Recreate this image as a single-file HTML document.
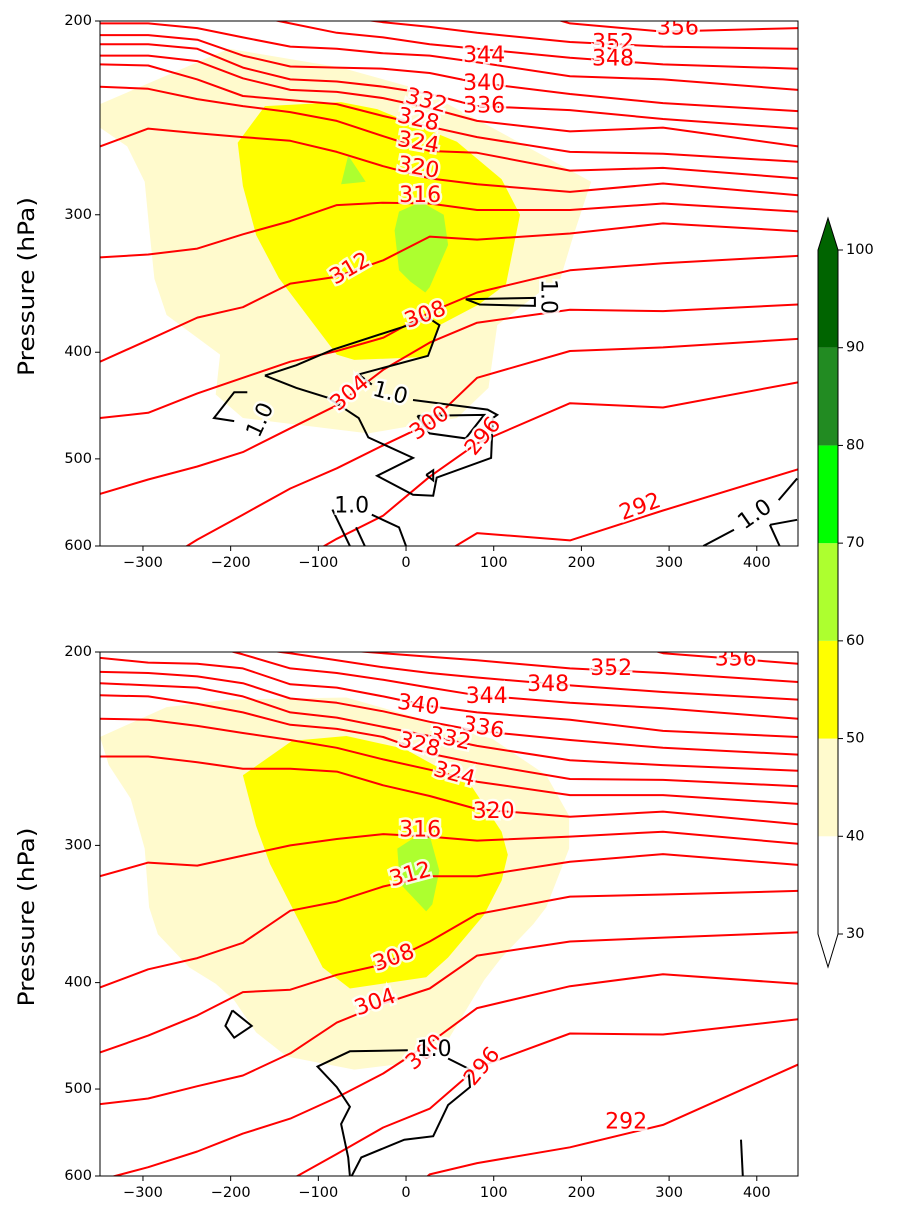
<!DOCTYPE html>
<html><head><meta charset="utf-8"><style>
html,body{margin:0;padding:0;background:#fff;overflow:hidden;width:909px;height:1227px;}
svg{display:block;font-family:"DejaVu Sans","Liberation Sans",sans-serif;}
</style></head><body>
<svg id="chart" width="909" height="1227" viewBox="0 0 909 1227" xmlns="http://www.w3.org/2000/svg" overflow="hidden"></svg>
<script>
// ---------- data ----------
const xSamples = [-349,-294,-238,-186,-132,-79,-26,27,81,187,293,447];
const thetaLevels = [356,352,348,344,340,336,332,328,324,320,316,312,308,304,300,296,292];
const topTheta = [
 [150,150,150,150,150,150,150,150,190,201,204.5,203],
 [185,188,191,194,196,198,200.5,202.5,205,209,211,212],
 [190,193,194,197,201,205,207,210,212,216,219,221],
 [201,201,203,207,211,212,214,215,218,224.5,226,231],
 [206,206,208,215,220,220.5,221,223,227.5,233,237.5,241.5],
 [210,210,212,220.5,226,227,229.5,233,239,241,245.5,250.5],
 [215,215,217.5,225.5,231,232,235,240,246.5,252,250,260],
 [219,219.5,226,234,236,238,244,249.5,255,263,264,268.5],
 [229.5,230.5,235.5,239,242,246.5,254.5,262.5,263.5,273.5,272,278],
 [260,250.5,253,255,257,263,271,278,281.5,286,281,288],
 [328,326,322,312.5,304,294,292.5,293,297,297,293,298],
 [408,390,372,364,346.5,341.5,330,314,316,312,305.5,310.5],
 [459,454,436,422,408,399,388,368,353,337,332,327],
 [538,522,508,493,469,447,415,392,376,366,367,362],
 [658,631,592,562,532,510,486,464,422,399,396,389],
 [780,740,700,660,625,591,563,519,484,445,449,426],
 [850,820,790,760,730,700,670,620,584,593,557,511]
];
const bottomTheta = [
 [150,150,150,150,150,150,150,150,170,190,200.5,205],
 [180,183,186,190,194,199,200.5,202,203.5,207,209,213],
 [185,188,191,198,200.5,203.5,206.5,209,211,214.5,217.5,221],
 [188,191,196,201,207,209,212,215.5,219,222.5,225,230],
 [202.5,204.5,205,207,214,215.5,219.5,224,227,230.5,236,239],
 [208.5,209,210.5,213.5,220.5,222.5,226.5,231.5,236,240.5,244.5,248],
 [213.5,214.5,215.5,219.5,227,229.5,234,238.5,243.5,251,253.5,256.5],
 [219,219.5,223,227,233,235,239,247.5,252.5,261,261.5,265],
 [230,230.5,233.5,237,240.5,244.5,250.5,256,262.5,270,270,275],
 [249,249,252,255.5,255.5,257,264.5,270.5,278,282.5,279.5,287],
 [320,311,313,306.5,300,296,293,294.5,297,294.5,291.5,299],
 [404,389,380,368,344,337.5,327,320,320,310.5,305.5,312.5],
 [463,447,428.5,408,406,393.5,385,367,346.5,334,332.5,330],
 [516,510,497,486,464,435,418,405,378,367,364,360],
 [605,589,570,549,532,509,484,454,422,403,393,401],
 [760,720,690,650,605,573,542,521,478,445,446,432],
 [850,820,790,760,730,700,650,598,584,565,539,475]
];
const topLabels = [["356",310,203,0],["352",236,209.5,0],["348",236,216.5,0],["344",89,215,0],["340",89,228,0],["336",89,239,0],["332",23,236.5,15],["328",14,246,12],["324",14,258,10],["320",14,272,10],["316",16,288,0],["312",-64,336,-30],["308",22,370,-20],["304",-64,436,-40],["300",27,464,-35],["296",88,477,-50],["292",267,553,-20]];
const topBlackLabels = [["1.0",162,356,90],["1.0",-18,436,15],["1.0",-166,461,-65],["1.0",-62,552,0],["1.0",398,562,-35]];
const bottomLabels = [["356",376,203,0],["352",234,207,0],["348",162,214,0],["344",92,219.5,0],["340",14,223.5,8],["336",88,234.5,10],["332",50,240,12],["328",15,243,15],["324",55,258.5,15],["320",100,279.5,0],["316",16,290.5,0],["312",5,319,-15],["308",-14,380,-20],["304",-35,417,-20],["300",22,463,-40],["296",87,477,-50],["292",251,536,0]];
const bottomBlackLabels = [["1.0",32,460,0]];
const topFill40 = [[-349,238],[-202,212],[-74,220.5],[17,231],[94,249],[211,280],[190,315],[176,343],[160,349],[104,378],[94,431],[58,459],[-43,474],[-186,459],[-217,437],[-212,402],[-273,370],[-287,343],[-293,308],[-298,280],[-318,260],[-349,250]];
const topFill50 = [[-192,258],[-161,239],[-74,237],[-33,240.5],[58,257.5],[109,278.5],[130,300],[114,347],[83,362],[38,378],[23,404],[-59,406.5],[-79,402],[-145,342.5],[-171,313],[-186,282.5]];
const topFill60a = [[-66,265],[-74,281.5],[-46,280]];
const topFill60b = [[-8,298],[17,292],[43,300],[48,319.5],[27,349],[22,353],[5,345],[-8,337],[-13,310]];
const bottomFill40 = [[-349,239],[-273,224.5],[-202,221],[-68,220],[17,230],[99,240],[160,259],[186,282],[186,302],[160,341.5],[145,354],[109,379.5],[89,398],[48,451],[-8,474.5],[-59,480],[-136,467],[-171,444],[-196,415],[-217,401],[-247,387.5],[-283,361.5],[-293,341.5],[-298,302],[-314,272],[-339,253.5]];
const bottomFill50 = [[-186,259],[-130,241],[-68,238.5],[-2,245],[74,264.5],[109,291.5],[116,306],[109,323],[89,347],[48,379.5],[23,395.5],[-64,405],[-95,387.5],[-130,341.5],[-155,312],[-171,288]];
const bottomFill60 = [[-10,302],[7,296],[27,294],[38,316.5],[30,339.5],[23,344.5],[-7,325]];
const topBlack = [
 [[-161,420],[-125,431],[-89,440],[-54,459],[-43,478],[8,499],[-33,518],[8,539],[31,540],[35,520],[97,499],[99,459],[104,456],[93,451],[8,442]],
 [[-39,428],[-54,419],[25,403],[38,378],[25,372],[7,377],[-84,398],[-125,411],[-161,420]],
 [[13,457],[89,456],[68,479],[27,474],[13,457]],
 [[23,517],[31,512],[31,523],[23,517]],
 [[68,358],[147,357],[147,363],[84,362],[68,358]],
 [[-181,435],[-196,435],[-219,459],[-196,462]],
 [[-84,556],[-64,600]],
 [[-39,562],[-8,577],[0,600]],
 [[-57,577],[-47,600]],
 [[339,600],[374,580]],
 [[425,545],[446,521]],
 [[415,574],[446,568]],
 [[415,574],[426,600]]
];
const bottomBlack = [
 [[2,461],[-64,462],[-101,477],[-79,498],[-64,519],[-74,538],[-66,577],[-64,600]],
 [[48,469],[71,479],[73,498],[48,517],[31,552],[-2,556],[-51,577],[-62,600]],
 [[-198,424],[-176,438],[-196,449],[-206,438],[-198,424]],
 [[382,556],[384,600]]
];
const pTicks = [200,300,400,500,600];
const xTicks = [-300,-200,-100,0,100,200,300,400];
const cbLevels = [30,40,50,60,70,80,90,100];
const cbColors = ["#ffffff","#fffacd","#ffff00","#adff2f","#00ff00","#228b22","#006400"];

// ---------- drawing ----------
const NS="http://www.w3.org/2000/svg";
const svg=document.getElementById('chart');
const XMIN=-349, XMAX=447, PL=100, PW=698;
function el(tag,attrs,parent){const e=document.createElementNS(NS,tag);for(const k in attrs)e.setAttribute(k,attrs[k]);(parent||svg).appendChild(e);return e;}
// split a pixel polyline into pieces lying within [ymin,ymax]
function clipPts(pts,ymin,ymax){
  const out=[];let cur=[];
  const lerp=(a,b,y)=>[a[0]+(b[0]-a[0])*(y-a[1])/(b[1]-a[1]),y];
  for(let i=0;i<pts.length;i++){
    const p=pts[i];const inside=p[1]>=ymin&&p[1]<=ymax;
    if(i>0){
      const q=pts[i-1];const qin=q[1]>=ymin&&q[1]<=ymax;
      if(inside&&!qin){cur=[lerp(q,p,q[1]>ymax?ymax:ymin)];}
      if(!inside&&qin){cur.push(lerp(q,p,p[1]>ymax?ymax:ymin));out.push(cur);cur=[];}
    }
    if(inside)cur.push(p);
  }
  if(cur.length>1)out.push(cur);
  return out;
}
function makePanel(top,h,theta,labels,blackLabels,fills,black,name){
  const X=x=>PL+(x-XMIN)/(XMAX-XMIN)*PW;
  const Y=p=>top+Math.log(p/200)/Math.log(3)*h;
  const g=el('g',{});
  
  
  const cid='clip-'+name;
  const cp=el('clipPath',{id:cid},g);el('rect',{x:PL,y:top,width:PW,height:h},cp);
  const plot=el('g',{'clip-path':'url(#'+cid+')'},g);
  fills.forEach(f=>{
    const poly=el('polygon',{points:f.pts.map(q=>X(q[0]).toFixed(1)+','+Y(q[1]).toFixed(1)).join(' '),fill:f.color,stroke:'none'},plot);
    
    
  });
  theta.forEach((row,i)=>{
    const pts=row.map((p,j)=>[X(xSamples[j]),Y(p)]);
    clipPts(pts,top-2,top+h+2).forEach(seg=>{
      const pl=el('polyline',{points:seg.map(q=>q[0].toFixed(1)+','+q[1].toFixed(1)).join(' '),fill:'none',stroke:'#ff0000','stroke-width':2,'stroke-linejoin':'round'},plot);
      
      
    });
  });
  black.forEach(c=>{
    const pl=el('polyline',{points:c.map(q=>X(q[0]).toFixed(1)+','+Y(q[1]).toFixed(1)).join(' '),fill:'none',stroke:'#000','stroke-width':2,'stroke-linejoin':'miter'},plot);
    
    
  });
  const lab=(arr,color)=>arr.forEach(l=>{
    const t=el('text',{x:X(l[1]).toFixed(1),y:Y(l[2]).toFixed(1),fill:color,'font-size':22,'text-anchor':'middle','dominant-baseline':'central',transform:'rotate('+(l[3])+' '+X(l[1]).toFixed(1)+' '+Y(l[2]).toFixed(1)+')',stroke:'#fff','stroke-width':5,'paint-order':'stroke','stroke-opacity':0.85},plot);
    t.textContent=l[0];
    
    
  });
  lab(labels,'#ff0000');lab(blackLabels,'#000');
  el('rect',{x:PL,y:top,width:PW,height:h,fill:'none',stroke:'#000','stroke-width':1},g);
  pTicks.forEach(p=>{
    const y=Y(p);el('line',{x1:PL-5,y1:y,x2:PL,y2:y,stroke:'#000','stroke-width':1},g);
    const t=el('text',{x:PL-8,y:y,'font-size':14.5,'text-anchor':'end','dominant-baseline':'central'},g);t.textContent=p;
    
    
  });
  xTicks.forEach(x=>{
    const xx=X(x);el('line',{x1:xx,y1:top+h,x2:xx,y2:top+h+5,stroke:'#000','stroke-width':1},g);
    const t=el('text',{x:xx,y:top+h+21,'font-size':14.5,'text-anchor':'middle'},g);t.textContent=(x<0?'\u2212'+(-x):x);
    
    
  });
  const cy=top+h/2+3;
  const yl=el('text',{x:34,y:cy,'font-size':22,'text-anchor':'middle',textLength:179,lengthAdjust:'spacingAndGlyphs',transform:'rotate(-90 34 '+cy+')'},g);
  yl.textContent='Pressure (hPa)';
  
  
}
makePanel(21,525,topTheta,topLabels,topBlackLabels,[{pts:topFill40,color:'#fffacd',level:40},{pts:topFill50,color:'#ffff00',level:50},{pts:topFill60a,color:'#adff2f',level:60},{pts:topFill60b,color:'#adff2f',level:60}],topBlack,'top-panel');
makePanel(652,524,bottomTheta,bottomLabels,bottomBlackLabels,[{pts:bottomFill40,color:'#fffacd',level:40},{pts:bottomFill50,color:'#ffff00',level:50},{pts:bottomFill60,color:'#adff2f',level:60}],bottomBlack,'bottom-panel');

// colorbar
const CBX=818,CBW=20,CBT=250,CBB=934;
const CY=v=>CBB-(v-cbLevels[0])/(cbLevels[cbLevels.length-1]-cbLevels[0])*(CBB-CBT);
const cb=el('g',{});


for(let i=0;i<cbColors.length;i++){
  const r=el('rect',{x:CBX,y:CY(cbLevels[i+1]),width:CBW,height:CY(cbLevels[i])-CY(cbLevels[i+1]),fill:cbColors[i]},cb);
  
  
}
el('polygon',{points:`${CBX},${CBT} ${CBX+CBW/2},${CBT-32} ${CBX+CBW},${CBT}`,fill:'#006400'},cb);
el('polygon',{points:`${CBX},${CBB} ${CBX+CBW/2},${CBB+33} ${CBX+CBW},${CBB}`,fill:'#fff'},cb);
el('polygon',{points:`${CBX},${CBT} ${CBX+CBW/2},${CBT-32} ${CBX+CBW},${CBT} ${CBX+CBW},${CBB} ${CBX+CBW/2},${CBB+33} ${CBX},${CBB}`,fill:'none',stroke:'#000','stroke-width':1},cb);
cbLevels.forEach(v=>{
  const y=CY(v);el('line',{x1:CBX+CBW,y1:y,x2:CBX+CBW+5,y2:y,stroke:'#000'},cb);
  const t=el('text',{x:CBX+CBW+8,y:y,'font-size':14.5,'dominant-baseline':'central'},cb);t.textContent=v;
  
  
});
</script>
</body></html>
